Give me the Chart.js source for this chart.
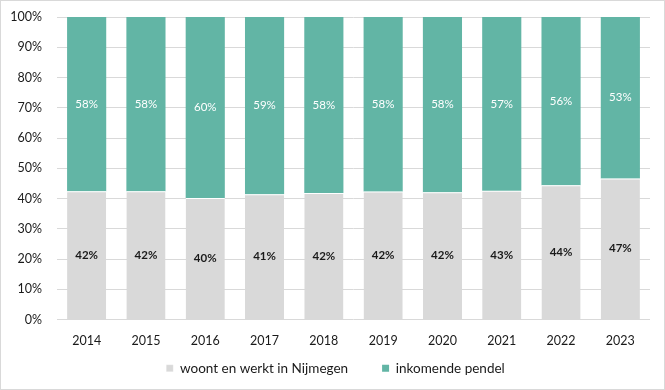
<!DOCTYPE html>
<html>
<head>
<meta charset="utf-8">
<script src="https://cdn.jsdelivr.net/npm/chart.js@4/dist/chart.umd.min.js"></script>
<style>
  html, body { margin: 0; padding: 0; background: #fff; }
  #wrap { width: 663px; height: 388px; border: 1px solid #d9d9d9; position: relative; }
  canvas { display: block; }
</style>
</head>
<body>
<div id="wrap"><canvas id="c" width="663" height="388"></canvas></div>
<script>
const categories = ['2014','2015','2016','2017','2018','2019','2020','2021','2022','2023'];
const woontEnWerkt = [42.4, 42.4, 40.2, 41.4, 41.8, 42.3, 42.1, 42.6, 44.4, 46.6];
const inkomendePendel = [57.6, 57.6, 59.8, 58.6, 58.2, 57.7, 57.9, 57.4, 55.6, 53.4];
const seriesNames = ['woont en werkt in Nijmegen', 'inkomende pendel'];
const yTicks = [0,10,20,30,40,50,60,70,80,90,100];

const FONT = 'Lato, "Liberation Sans", sans-serif';

const labelPlugin = {
  id: 'segLabels',
  afterLayout(chart) {
    const xs = chart.scales.x;
    xs.bottom = xs.top + 40;
    if (chart.legend) { chart.legend.left += 10; chart.legend.right += 10; }
  },
  afterDatasetsDraw(chart) {
    const ctx = chart.ctx;
    chart.data.datasets.forEach((ds, di) => {
      const meta = chart.getDatasetMeta(di);
      meta.data.forEach((el, i) => {
        const v = ds.data[i];
        const x = el.x;
        const y = (el.y + el.base) / 2;
        ctx.save();
        ctx.font = (di === 0 ? 'bold ' : '') + '11.5px ' + FONT;
        ctx.fillStyle = di === 0 ? '#1a1a1a' : '#ffffff';
        ctx.textAlign = 'center';
        ctx.textBaseline = 'middle';
        ctx.fillText(Math.round(v) + '%', x, y);
        ctx.restore();
      });
    });
  }
};

new Chart(document.getElementById('c'), {
  type: 'bar',
  data: {
    labels: categories,
    datasets: [
      { label: seriesNames[0], data: woontEnWerkt, backgroundColor: '#d9d9d9', borderColor: '#ffffff', borderWidth: {top: 1, bottom: 0, left: 0, right: 0}, borderSkipped: false, barPercentage: 0.66, categoryPercentage: 1 },
      { label: seriesNames[1], data: inkomendePendel, backgroundColor: '#62b5a5', borderWidth: 0, barPercentage: 0.66, categoryPercentage: 1 }
    ]
  },
  options: {
    responsive: false,
    animation: false,
    layout: { autoPadding: false, padding: { top: 16, right: 14, left: 0, bottom: 4 } },
    plugins: {
      tooltip: { enabled: false },
      legend: {
        position: 'bottom',
        labels: {
          boxWidth: 7, boxHeight: 7, padding: 34,
          color: '#1a1a1a',
          font: { family: FONT, size: 13.5 }
        }
      }
    },
    scales: {
      x: {
        stacked: true,
        afterFit(scale) { scale.height = 8; scale.paddingTop = 0; scale.paddingBottom = 0; },
        grid: { display: false, drawTicks: false },
        border: { display: false },
        ticks: { color: '#1a1a1a', font: { family: FONT, size: 12.5 }, padding: 14 }
      },
      y: {
        stacked: true,
        min: 0, max: 100,
        afterFit(scale) { scale.width = 56; scale.paddingTop = 0; scale.paddingBottom = 0; },
        afterBuildTicks(scale) { scale.ticks = yTicks.map(v => ({ value: v })); },
        grid: { color: '#d9d9d9', drawTicks: false },
        border: { display: false },
        ticks: { color: '#1a1a1a', font: { family: FONT, size: 12.5 }, padding: 15, callback: v => v + '%' }
      }
    }
  },
  plugins: [labelPlugin]
});
</script>
</body>
</html>
